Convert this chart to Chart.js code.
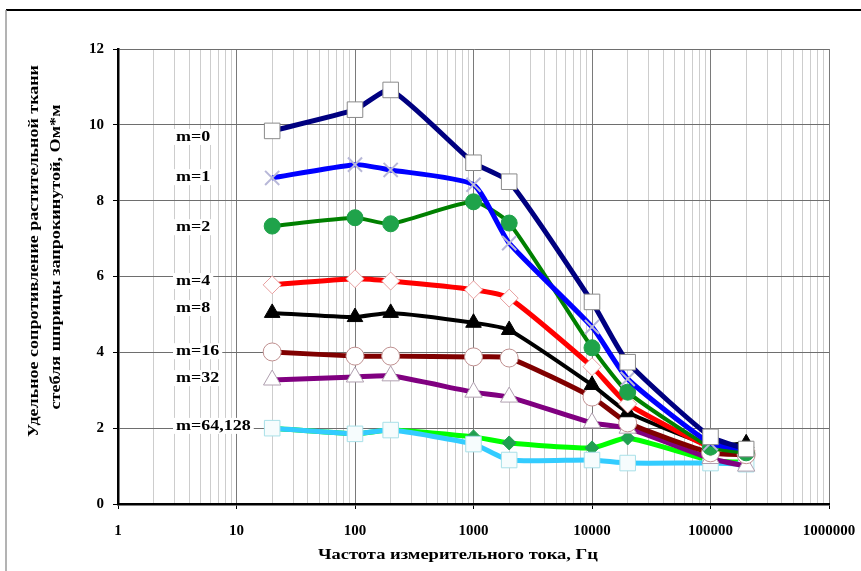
<!DOCTYPE html>
<html>
<head>
<meta charset="utf-8">
<script src="https://cdn.jsdelivr.net/npm/chart.js@4"></script>
<style>
  body { margin: 0; background: #fff; }
  canvas { display: block; }
</style>
</head>
<body>
<canvas id="myChart" width="861" height="571"></canvas>
<script>
// Frequencies of the measuring current, Hz
var freq = [20, 100, 200, 1000, 2000, 10000, 20000, 100000, 200000];

// Specific resistance, Ohm*m, one array per m
var m0   = [9.84, 10.40, 10.92, 9.00, 8.50, 5.33, 3.74, 1.77, 1.45];
var m1   = [8.60, 8.95, 8.81, 8.42, 6.88, 4.67, 3.30, 1.60, 1.45];
var m2   = [7.33, 7.55, 7.39, 7.97, 7.41, 4.12, 2.95, 1.50, 1.35];
var m4   = [5.78, 5.94, 5.88, 5.65, 5.43, 3.62, 2.64, 1.50, 1.40];
var m8   = [5.04, 4.93, 5.04, 4.78, 4.59, 3.14, 2.42, 1.55, 1.60];
var m16  = [4.01, 3.90, 3.90, 3.88, 3.85, 2.82, 2.14, 1.35, 1.30];
var m32  = [3.27, 3.35, 3.38, 2.95, 2.82, 2.14, 2.00, 1.20, 1.00];
var m64  = [2.00, 1.85, 1.95, 1.77, 1.61, 1.48, 1.74, 1.15, 1.10];
var m128 = [2.00, 1.85, 1.95, 1.58, 1.16, 1.16, 1.08, 1.08, 1.05];

// Series labels written inside the plot, and the y value they sit at
var seriesNames = ['m=0', 'm=1', 'm=2', 'm=4', 'm=8', 'm=16', 'm=32', 'm=64,128'];
var nameLevels  = [9.68, 8.62, 7.30, 5.88, 5.17, 4.03, 3.32, 2.06];

// Axis ticks
var yTicks = [0, 2, 4, 6, 8, 10, 12];
var xDecades = [1, 10, 100, 1000, 10000, 100000, 1000000];

var yTitle = ['Удельное сопротивление растительной ткани', 'стебля шприцы запрокинутой, Ом*м'];
var xTitle = 'Частота измерительного тока, Гц';

var serif = '"Liberation Serif", "Times New Roman", serif';

function isDecade(v) {
    var l = Math.log10(v);
    return Math.abs(l - Math.round(l)) < 1e-9;
}

// all 1..9 multiples of each decade, as in an Excel log axis
var xTickValues = [];
xDecades.forEach(function (d, i) {
    if (i === xDecades.length - 1) { xTickValues.push(d); return; }
    for (var k = 1; k <= 9; k++) xTickValues.push(k * d);
});

function points(arr) {
    return freq.map(function (f, i) { return { x: f, y: arr[i] }; });
}

// draws text squeezed/stretched to a given width
function fitText(c, text, cx, cy, width, font) {
    c.font = font;
    var w = c.measureText(text).width;
    c.save();
    c.translate(cx, cy);
    c.scale(width / w, 1);
    c.textAlign = 'center';
    c.textBaseline = 'middle';
    c.fillText(text, 0, 0);
    c.restore();
}

var decorations = {
    id: 'decorations',
    beforeDraw: function (chart) {
        var c = chart.ctx;
        c.save();
        c.fillStyle = '#fff';
        c.fillRect(0, 0, chart.width, chart.height);
        // page frame
        c.strokeStyle = '#000';
        c.lineWidth = 2;
        c.beginPath(); c.moveTo(6, 10); c.lineTo(chart.width, 10); c.stroke();
        c.strokeStyle = '#9a9a9a';
        c.lineWidth = 1.5;
        c.beginPath(); c.moveTo(6, 10); c.lineTo(6, chart.height); c.stroke();
        c.restore();
    },
    beforeDatasetsDraw: function (chart) {
        var c = chart.ctx;
        var y = chart.scales.y;
        var left = chart.chartArea.left + 58;
        c.save();
        c.font = 'bold 15px ' + serif;
        seriesNames.forEach(function (name, i) {
            var py = y.getPixelForValue(nameLevels[i]);
            var w = c.measureText(name).width * 1.2;
            c.fillStyle = '#fff';
            c.fillRect(left - 3, py - 8, w + 6, 16);
            c.fillStyle = '#000';
            fitText(c, name, left + w / 2, py, w, 'bold 15px ' + serif);
        });
        c.restore();
    },
    afterDraw: function (chart) {
        var c = chart.ctx;
        c.save();
        c.fillStyle = '#000';
        // y axis title, two rotated lines
        c.save();
        c.translate(34, 251);
        c.rotate(-Math.PI / 2);
        fitText(c, yTitle[0], 0, 0, 372, 'bold 15px ' + serif);
        c.restore();
        c.save();
        c.translate(56, 257);
        c.rotate(-Math.PI / 2);
        fitText(c, yTitle[1], 0, 0, 305, 'bold 15px ' + serif);
        c.restore();
        // x axis title
        fitText(c, xTitle, 458, 555, 280, 'bold 15px ' + serif);
        c.restore();
    }
};

function series(data, line, width, style, radius, fill, edge, edgeWidth) {
    return {
        data: points(data),
        borderColor: line,
        borderWidth: width,
        pointStyle: style,
        pointRadius: radius,
        pointBackgroundColor: fill,
        pointBorderColor: edge,
        pointBorderWidth: edgeWidth,
        tension: 0.18,
        fill: false
    };
}

var ctx = document.getElementById('myChart').getContext('2d');

var chart = new Chart(ctx, {
    type: 'line',
    data: {
        datasets: [
            series(m0, '#000080', 5, 'rect', 11, '#ffffff', '#8a8a8a', 1),
            series(m1, '#0000ff', 5, 'crossRot', 10, '#ffffff', '#b8b8d8', 2),
            series(m2, '#008000', 4, 'circle', 8, '#1fa34a', '#1fa34a', 1),
            series(m4, '#ff0000', 5, 'rectRot', 9, '#ffffff', '#e8a0a0', 1),
            series(m8, '#000000', 4, 'triangle', 9, '#000000', '#000000', 1),
            series(m16, '#800000', 5, 'circle', 9, '#ffffff', '#c09090', 1),
            series(m32, '#800080', 5, 'triangle', 10, '#ffffff', '#b0a0b0', 1),
            series(m128, '#33ccff', 5, 'rect', 11, '#f6fcfd', '#a8e0e8', 1),
            series(m64, '#00ff00', 5, 'rectRot', 7, '#20a050', '#20a050', 1)
        ]
    },
    options: {
        responsive: false,
        animation: false,
        layout: { padding: { top: 49, right: 32, left: 0, bottom: 0 } },
        plugins: {
            legend: { display: false },
            tooltip: { enabled: false }
        },
        scales: {
            x: {
                type: 'logarithmic',
                min: 1,
                max: 1000000,
                afterBuildTicks: function (scale) {
                    scale.ticks = xTickValues.map(function (v) { return { value: v }; });
                },
                afterFit: function (scale) {
                    scale.height = 67;
                    scale.paddingLeft = 0;
                    scale.paddingRight = 0;
                },
                ticks: {
                    autoSkip: false,
                    maxRotation: 0,
                    padding: 13,
                    color: '#000',
                    font: { family: serif, size: 15, weight: 'bold' },
                    callback: function (v) { return isDecade(v) ? String(v) : ''; }
                },
                grid: {
                    color: function (c) { return isDecade(c.tick.value) ? '#7a7a7a' : '#cdcdcd'; },
                    tickColor: function (c) { return isDecade(c.tick.value) ? '#000' : 'rgba(0,0,0,0)'; },
                    tickLength: 5,
                    lineWidth: 1
                },
                border: { color: '#000', width: 2.5 }
            },
            y: {
                min: 0,
                max: 12,
                afterBuildTicks: function (scale) {
                    scale.ticks = yTicks.map(function (v) { return { value: v }; });
                },
                afterFit: function (scale) {
                    scale.width = 118;
                    scale.paddingTop = 0;
                    scale.paddingBottom = 0;
                },
                ticks: {
                    padding: 9,
                    color: '#000',
                    font: { family: serif, size: 15, weight: 'bold' }
                },
                grid: {
                    color: '#6e6e6e',
                    tickColor: '#000',
                    tickLength: 5,
                    lineWidth: 1
                },
                border: { color: '#000', width: 2.5 }
            }
        }
    },
    plugins: [decorations]
});
</script>
</body>
</html>
